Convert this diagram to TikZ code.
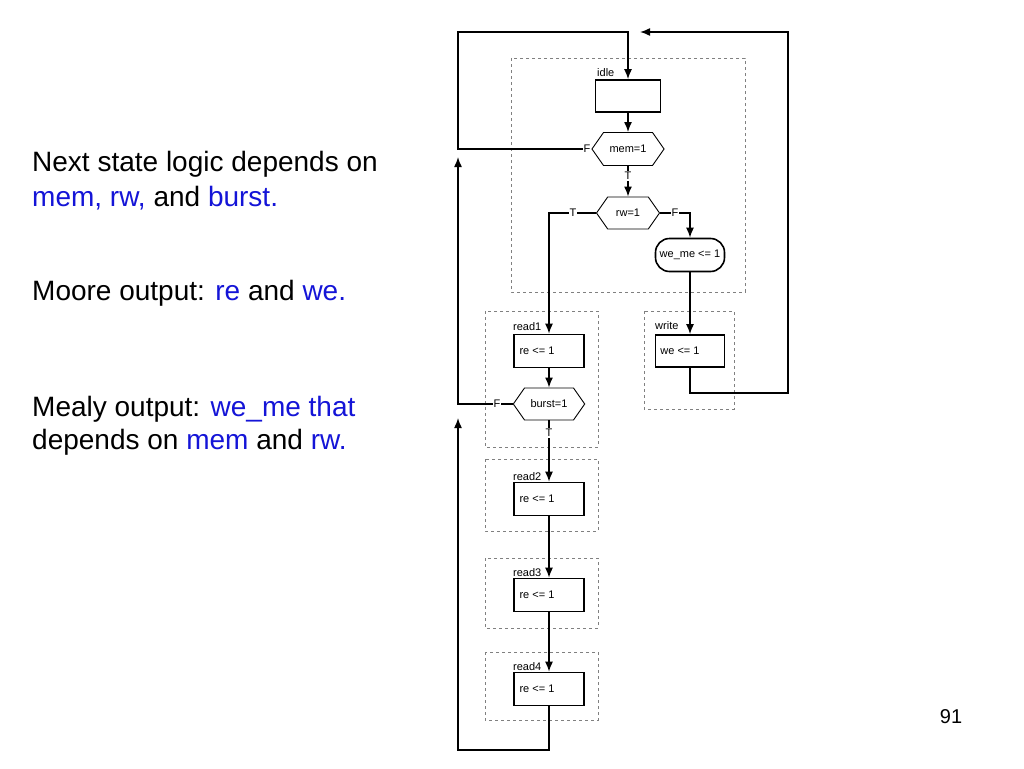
\documentclass[tikz,border=0pt]{standalone}
\usepackage{fontspec}
\setmainfont{Liberation Sans}
\usetikzlibrary{shapes.geometric,shapes.symbols,arrows.meta}
\definecolor{bl}{RGB}{20,20,215}
\begin{document}
\begin{tikzpicture}[x=1pt,y=-1pt,
  st/.style={draw,line width=1.6pt,minimum width=70pt,minimum height=33pt,inner sep=0pt,font=\fontsize{11}{13}\selectfont},
  hexa/.style={draw,line width=0.9pt,shape=signal,signal to=west and east,signal pointer angle=110,minimum height=33pt,inner xsep=6pt,font=\fontsize{11}{13}\selectfont},
  grp/.style={draw=gray,dashed,line width=0.8pt},
  lab/.style={font=\fontsize{11}{13}\selectfont,anchor=south west,inner sep=1pt},
  tf/.style={font=\fontsize{11}{13}\selectfont,fill=white,inner sep=1pt},
  ar/.style={line width=1.5pt,-{Latex[length=10pt,width=8pt]}},
  big/.style={font=\fontsize{28}{33}\selectfont,anchor=west,inner sep=0pt}]
\useasboundingbox (0,0) rectangle (1024,768);
% groups
\draw[grp] (511,58) rectangle (745,292);
\draw[grp] (485,311) rectangle (598,447);
\draw[grp] (644,311) rectangle (734,409);
\draw[grp] (485,459) rectangle (598,531);
\draw[grp] (485,558) rectangle (598,628);
\draw[grp] (485,652) rectangle (598,720);
% states
\node[st,minimum width=65pt,minimum height=32pt] (idle) at (628,96) {};
\node[lab] at (596,78) {idle};
\node[hexa,minimum width=63pt] (mem) at (628,149) {mem=1};
\node[hexa,minimum width=63pt,minimum height=32pt] (rw) at (628,213) {rw=1};
\node[draw,line width=1.6pt,rounded corners=14pt,minimum width=69pt,minimum height=33pt,inner sep=0pt,font=\fontsize{11}{13}\selectfont] (weme) at (690,255) {we\_me <= 1};
\node[st] (r1) at (549,351) {\hspace*{-24pt}re <= 1};
\node[lab] at (512,332) {read1};
\node[hexa,minimum width=71pt,minimum height=32pt] (burst) at (549,404) {burst=1};
\node[st,minimum width=69pt,minimum height=32pt] (wr) at (690,351) {\hspace*{-20pt}we <= 1};
\node[lab] at (654,331) {write};
\node[st] (r2) at (549,499) {\hspace*{-24pt}re <= 1};
\node[lab] at (512,482) {read2};
\node[st] (r3) at (549,595) {\hspace*{-24pt}re <= 1};
\node[lab] at (512,578) {read3};
\node[st] (r4) at (549,689) {\hspace*{-24pt}re <= 1};
\node[lab] at (512,672) {read4};
% coordinates
\coordinate (c1) at (458,149); \coordinate (c2) at (458,32); \coordinate (c3) at (628,32);
\coordinate (w1) at (690,393); \coordinate (w2) at (788,393); \coordinate (w3) at (788,32); \coordinate (w4) at (640,32);
\coordinate (b1) at (458,404); \coordinate (b2) at (458,157);
\coordinate (d1) at (549,750); \coordinate (d2) at (458,750); \coordinate (d3) at (458,418);
\coordinate (t1) at (549,213); \coordinate (f1) at (690,213);
% connectors
\draw[ar] (mem.west) -- (c1) -- (c2) -- (c3) -- (idle.north);
\node[tf] at (587,149) {F};
\draw[ar] (wr.south) -- (w1) -- (w2) -- (w3) -- (w4);
\draw[ar] (burst.west) -- (b1) -- (b2);
\node[tf] at (497,404) {F};
\draw[ar] (r4.south) -- (d1) -- (d2) -- (d3);
\draw[ar] (idle.south) -- (mem.north);
\draw[ar] (mem.south) -- (rw.north);
\node[tf] at (628,176) {T};
\draw[ar] (rw.west) -- (t1) -- (r1.north);
\node[tf] at (573,213) {T};
\draw[ar] (rw.east) -- (f1) -- (weme.north);
\node[tf] at (675,213) {F};
\draw[ar] (weme.south) -- (wr.north);
\draw[ar] (r1.south) -- (burst.north);
\draw[ar] (burst.south) -- (r2.north);
\node[tf] at (549,433) {T};
\draw[ar] (r2.south) -- (r3.north);
\draw[ar] (r3.south) -- (r4.north);
% text
\node[big] at (32,164) {Next state logic depends on};
\node[big] at (32,198) {\textcolor{bl}{mem, rw,} and \textcolor{bl}{burst.}};
\node[big] at (32,293) {Moore output: \textcolor{bl}{re} and \textcolor{bl}{we.}};
\node[big] at (32,409) {Mealy output: \textcolor{bl}{we\_me that}};
\node[big] at (32,442) {depends on \textcolor{bl}{mem} and \textcolor{bl}{rw.}};
\node[font=\fontsize{20}{24}\selectfont] at (951,717) {91};
\end{tikzpicture}
\end{document}
